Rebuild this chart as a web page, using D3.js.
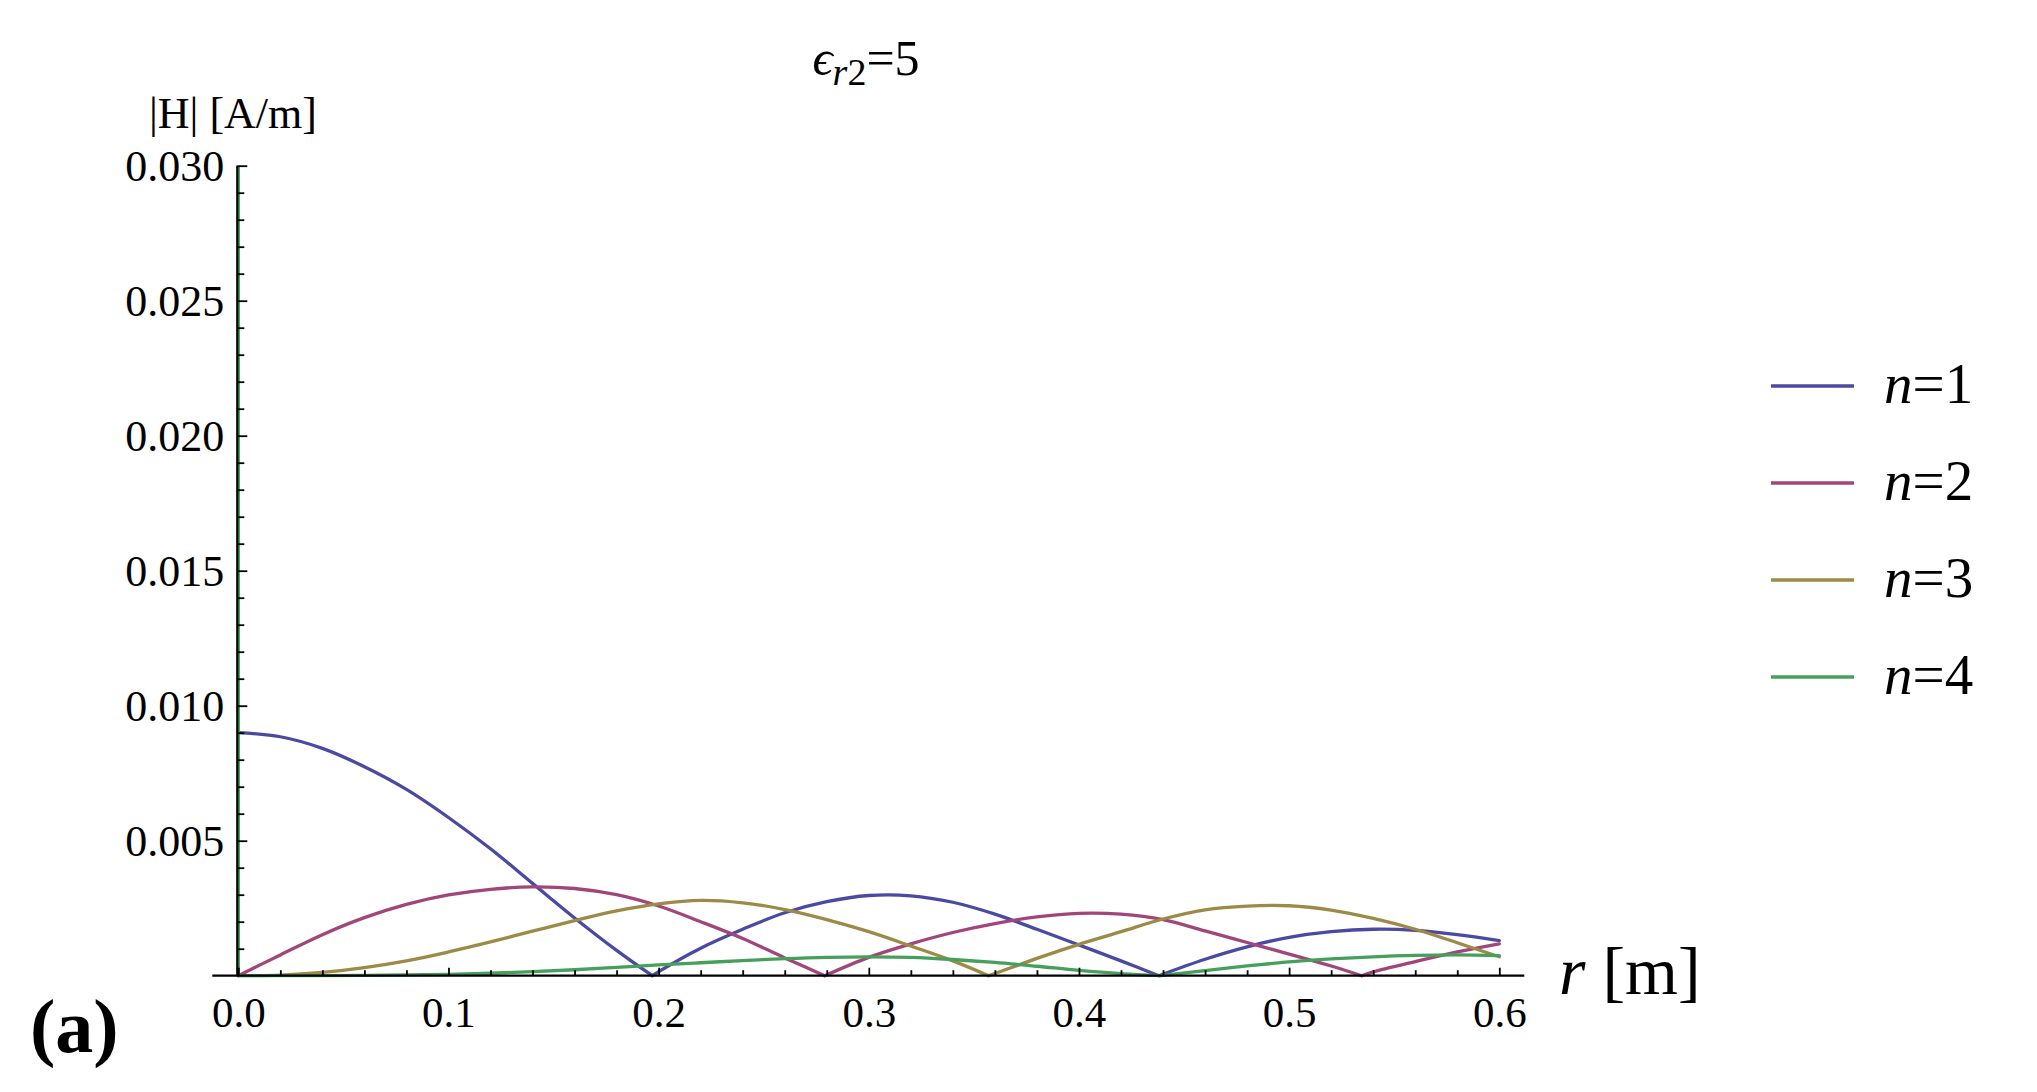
<!DOCTYPE html>
<html><head><meta charset="utf-8">
<script src="https://cdn.jsdelivr.net/npm/d3@7"></script>
<style>
html,body{margin:0;padding:0;background:#fff;}
svg{display:block;}
text, tspan{font-family:"Liberation Serif","Times New Roman",serif;fill:#000;}
</style>
</head><body>
<svg id="c" width="2037" height="1092"></svg>
<script>
// ---- data (r in m, |H| in A/m) ----
const rGrid = [0,0.02,0.04,0.06,0.08,0.10,0.12,0.14,0.16,0.18,0.20,0.22,0.24,0.26,0.28,0.30,
               0.32,0.34,0.36,0.38,0.40,0.42,0.44,0.46,0.48,0.50,0.52,0.54,0.56,0.58,0.60];
const hN1 = [0.00900,0.00885,0.00842,0.00774,0.00690,0.00586,0.00470,0.00342,0.00214,0.00094,0.00015,
             0.00102,0.00172,0.00233,0.00274,0.00297,0.00296,0.00272,0.00228,0.00172,0.00114,0.00055,
             0.00006,0.00061,0.00107,0.00142,0.00163,0.00172,0.00168,0.00152,0.00130];
const hN2 = [0,0.00077,0.00152,0.00215,0.00264,0.00299,0.00320,0.00329,0.00323,0.00300,0.00258,
             0.00200,0.00138,0.00066,0.00005,0.00068,0.00118,0.00160,0.00193,0.00218,0.00231,0.00228,
             0.00208,0.00166,0.00123,0.00080,0.00036,0.00014,0.00052,0.00088,0.00118];
const hN3 = [0,0.00002,0.00012,0.00030,0.00055,0.00088,0.00125,0.00165,0.00204,0.00240,0.00266,
             0.00279,0.00270,0.00245,0.00208,0.00163,0.00110,0.00055,0.00008,0.00064,0.00116,0.00163,
             0.00210,0.00244,0.00258,0.00259,0.00243,0.00212,0.00172,0.00122,0.00070];
const hN4 = [0.03000,0.000001,0.000004,0.000012,0.000028,0.00005,0.00009,0.00015,0.00022,0.00031,0.00040,
             0.00048,0.00056,0.00063,0.00068,0.00070,0.00068,0.00060,0.00049,0.00035,0.00020,0.00008,
             0.00001,0.00019,0.00036,0.00051,0.00062,0.00070,0.00075,0.00077,0.00074];
// r positions where |H| touches zero
const zerosN1 = [0.197, 0.438];
const zerosN2 = [0.279, 0.5345];
const zerosN3 = [0.357];
const zerosN4 = [0, 0.439];

const seriesLabels = ["1","2","3","4"];
const seriesValues = [hN1, hN2, hN3, hN4];
const seriesZeros = [zerosN1, zerosN2, zerosN3, zerosN4];
const colors = ["#4a4aa3","#a1467a","#9c8a46","#46a05c"];

const xMajor = [0,0.1,0.2,0.3,0.4,0.5,0.6];
const xMinor = d3.range(0, 61, 2).filter(d => d % 10 !== 0).map(d => d/100);
const yMajor = [0.005,0.010,0.015,0.020,0.025,0.030];
const yMinor = d3.range(1, 30).filter(d => d % 5 !== 0).map(d => d/1000);

const FONT = '"Liberation Serif","Times New Roman",serif';

// ---- layout ----
const svg = d3.select("#c");
const x = d3.scaleLinear().domain([0, 0.6]).range([238.3, 1499.3]);
const y = d3.scaleLinear().domain([0, 0.030]).range([975.7, 165.7]);

svg.append("defs").append("clipPath").attr("id","clip")
  .append("rect").attr("x", x(0)-4).attr("y", y(0.030)).attr("width", x(0.6)-x(0)+10).attr("height", y(0)-y(0.030)+2);

function segments(vals, zeros){
  const pts = rGrid.map((r,i)=>({r, v: vals[i], z: vals[i]===0}))
    .filter(p => !zeros.some(z => Math.abs(z-p.r) > 0 && Math.abs(z-p.r) < 0.003));
  const zp = zeros.map(z => ({r:z, v:0, z:true}));
  const all = pts.concat(zp).sort((a,b)=> (a.r-b.r) || ((a.z?1:0)-(b.z?1:0)));
  const segs = []; let cur = [];
  for (const p of all){
    cur.push(p);
    if (p.z){ if (cur.length>1) segs.push(cur); cur=[p]; }
  }
  if (cur.length>1) segs.push(cur);
  return segs;
}

const line = d3.line().x(d=>x(d.r)).y(d=>y(d.v)).curve(d3.curveCatmullRom.alpha(0.5));
const plot = svg.append("g").attr("clip-path","url(#clip)");
seriesValues.forEach((vals,i)=>{
  segments(vals, seriesZeros[i]).forEach(seg=>{
    plot.append("path").attr("d", line(seg)).attr("fill","none")
      .attr("stroke", colors[i]).attr("stroke-width", 3.3)
      .attr("stroke-linejoin","round").attr("stroke-linecap","round");
  });
});

// ---- axes ----
function styleAxis(g, fs){
  g.attr("font-family", FONT).attr("font-size", fs);
  g.selectAll(".tick line").attr("stroke","#000").attr("stroke-width",1.8);
  g.selectAll(".tick text").attr("fill","#000");
  g.select(".domain").remove();
}
const gxMaj = svg.append("g").attr("transform",`translate(0,${y(0)})`)
  .call(d3.axisBottom(x).tickValues(xMajor).tickSize(-8).tickPadding(21).tickFormat(d3.format(".1f")));
styleAxis(gxMaj, 43);
const gxMin = svg.append("g").attr("transform",`translate(0,${y(0)})`)
  .call(d3.axisBottom(x).tickValues(xMinor).tickSize(-5.5).tickFormat(""));
styleAxis(gxMin, 10);

const gyMaj = svg.append("g").attr("transform",`translate(${x(0)-1},0)`)
  .call(d3.axisLeft(y).tickValues(yMajor).tickSize(-10).tickPadding(13).tickFormat(d3.format(".3f")));
styleAxis(gyMaj, 44);
gyMaj.selectAll(".tick text").attr("dy","0.34em");
const gyMin = svg.append("g").attr("transform",`translate(${x(0)-1},0)`)
  .call(d3.axisLeft(y).tickValues(yMinor).tickSize(-7).tickFormat(""));
styleAxis(gyMin, 10);

// axis lines
svg.append("line").attr("x1", x(0)-26).attr("x2", x(0.6)+25).attr("y1", y(0)).attr("y2", y(0))
  .attr("stroke","#000").attr("stroke-width",2.2);
svg.append("line").attr("x1", x(0)-1).attr("x2", x(0)-1).attr("y1", y(0)).attr("y2", y(0.030))
  .attr("stroke","#000").attr("stroke-width",2.2);

// ---- texts ----
svg.append("text").attr("x", 149).attr("y", 128).attr("font-family", FONT).attr("font-size", 44).text("|H| [A/m]");

const title = svg.append("text").attr("x", 866).attr("y", 75).attr("text-anchor","middle")
  .attr("font-family", FONT).attr("font-size", 50);
title.append("tspan").attr("font-style","italic").text("\u03F5");
title.append("tspan").attr("font-style","italic").attr("font-size",38).attr("dy", 10).text("r");
title.append("tspan").attr("font-size",38).text("2");
title.append("tspan").attr("dy", -10).attr("font-family", FONT).text("=5");

const xl = svg.append("text").attr("x", 1559).attr("y", 994).attr("font-family", FONT).attr("font-size", 68);
xl.append("tspan").attr("font-style","italic").text("r");
xl.append("tspan").text(" [m]");

svg.append("text").attr("x", 30).attr("y", 1052).attr("font-family", FONT).attr("font-size", 76)
  .attr("font-weight","bold").text("(a)");

// ---- legend ----
const legY0 = 386, legDY = 97;
const leg = svg.append("g");
seriesLabels.forEach((lab,i)=>{
  const yy = legY0 + i*legDY;
  leg.append("line").attr("x1",1771).attr("x2",1854).attr("y1",yy).attr("y2",yy)
    .attr("stroke", colors[i]).attr("stroke-width", 3.3);
  const t = leg.append("text").attr("x",1884).attr("y",yy+17).attr("font-family", FONT).attr("font-size",57);
  t.append("tspan").attr("font-style","italic").text("n");
  t.append("tspan").text("=" + lab);
});
</script>
</body></html>
